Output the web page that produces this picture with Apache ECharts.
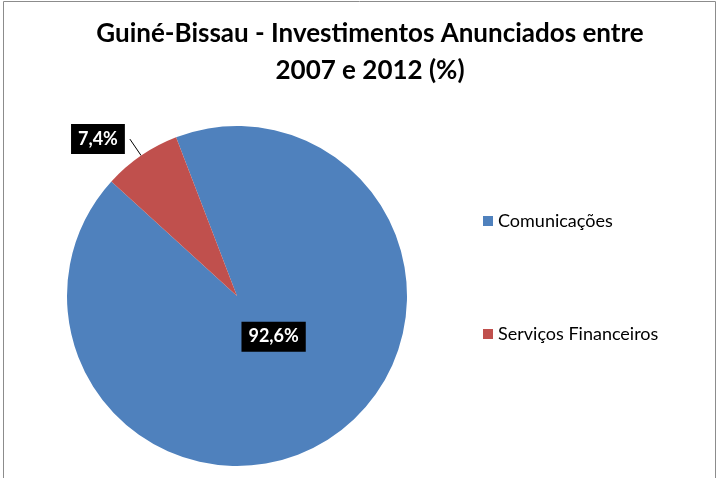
<!DOCTYPE html>
<html>
<head>
<meta charset="utf-8">
<script src="https://cdn.jsdelivr.net/npm/echarts@6/dist/echarts.min.js"></script>
<style>
  html, body { margin: 0; padding: 0; background: #fff; }
  #chart { width: 719px; height: 478px; }
</style>
</head>
<body>
<div id="chart"></div>
<script>
var chartDom = document.getElementById('chart');
var myChart = echarts.init(chartDom);

var categories = ['Comunicações', 'Serviços Financeiros'];
var values = [92.6, 7.4];
var colors = ['#4F81BD', '#C0504D'];

var fontFam = 'Lato, "Open Sans", sans-serif';

// first slice label goes inside the pie, second one outside with a leader line
var data = categories.map(function (name, i) {
  var d = { name: name, value: values[i], itemStyle: { color: colors[i] } };
  if (i === 0) {
    d.label = { position: 'inside' };
    d.labelLine = { show: false };
  }
  return d;
});

myChart.setOption({
  animation: false,
  title: {
    text: 'Guiné-Bissau - Investimentos Anunciados entre\n2007 e 2012 (%)',
    left: 365,
    top: 10,
    textAlign: 'center',
    textStyle: {
      fontFamily: fontFam,
      fontWeight: 'bold',
      fontSize: 26,
      lineHeight: 37,
      color: '#000'
    }
  },
  legend: {
    orient: 'vertical',
    left: 478,
    top: 207,
    itemWidth: 10,
    itemHeight: 10,
    itemGap: 95,
    icon: 'rect',
    textStyle: { fontFamily: fontFam, fontSize: 18, color: '#000' },
    data: categories
  },
  graphic: [{
    type: 'rect',
    shape: { x: 3.5, y: 1.5, width: 712, height: 490 },
    style: { fill: 'none', stroke: '#8c8c8c', lineWidth: 1 },
    silent: true
  }],
  series: [{
    type: 'pie',
    center: [237, 296],
    radius: 170,
    startAngle: 111,
    clockwise: true,
    data: data,
    label: {
      show: true,
      position: 'outside',
      formatter: function (p) { return String(p.value).replace('.', ',') + '%'; },
      fontFamily: fontFam,
      fontWeight: 'bold',
      fontSize: 18,
      color: '#fff',
      backgroundColor: '#000',
      padding: [6, 7, 6, 7]
    },
    labelLine: {
      show: true,
      length: 20,
      length2: 0,
      lineStyle: { color: '#000', width: 1 }
    },
    labelLayout: function (params) {
      if (params.dataIndex === 0) {
        return { dx: -13, dy: -32 };
      }
    },
    emphasis: { disabled: true }
  }]
});
</script>
</body>
</html>
